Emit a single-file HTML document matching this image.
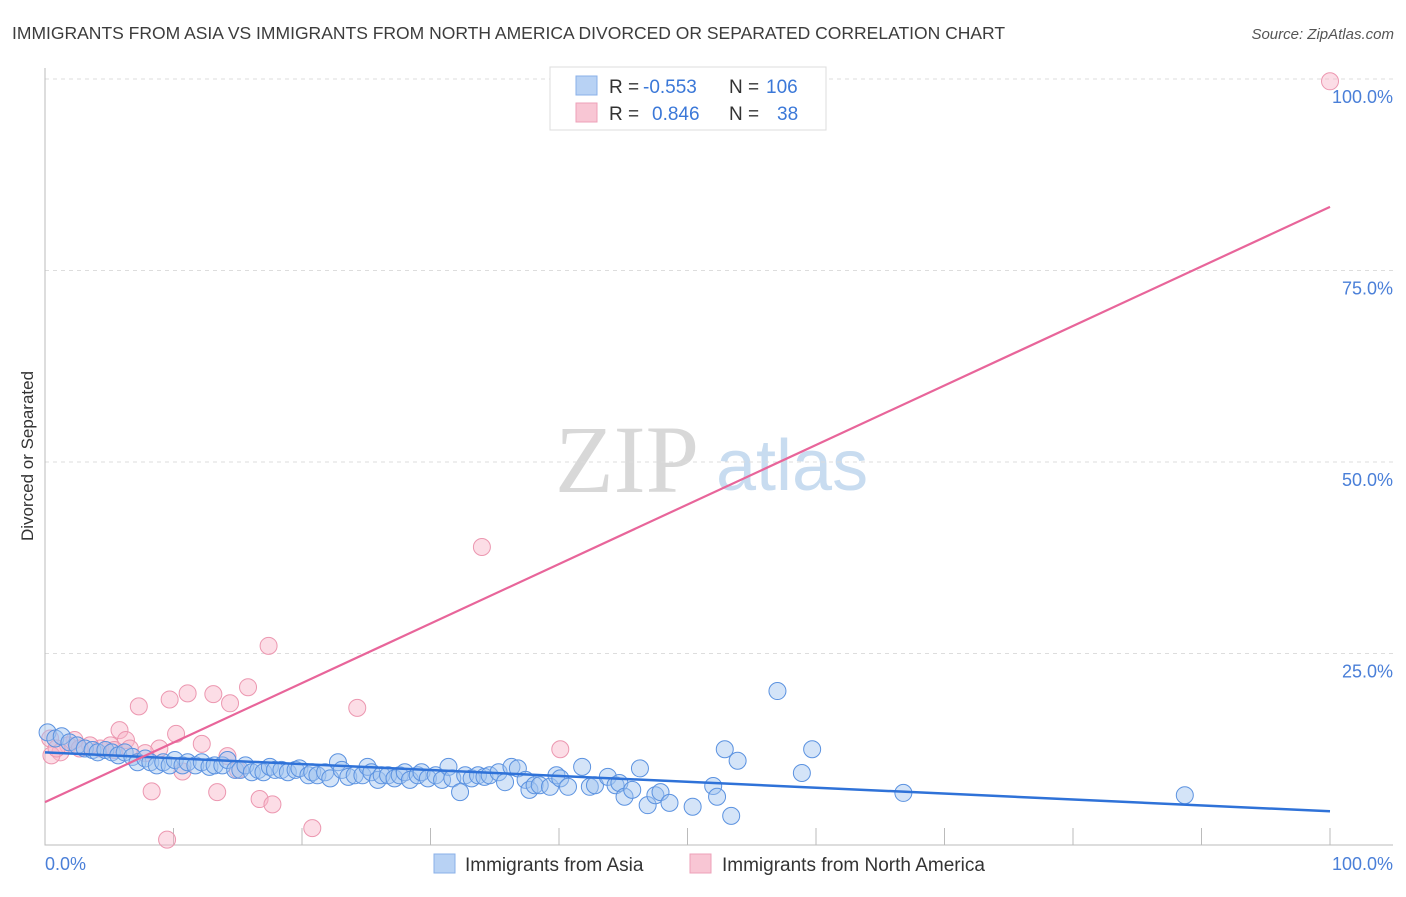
<!DOCTYPE html>
<html><head><meta charset="utf-8"><style>
body{margin:0;background:#fff;width:1406px;height:892px;overflow:hidden;font-family:"Liberation Sans",sans-serif}
</style></head><body>
<svg id="chart" width="1406" height="892" xmlns="http://www.w3.org/2000/svg" font-family="Liberation Sans, sans-serif">
<text x="12" y="39" font-size="17.5" fill="#3c3c3c">IMMIGRANTS FROM ASIA VS IMMIGRANTS FROM NORTH AMERICA DIVORCED OR SEPARATED CORRELATION CHART</text>
<text x="1394" y="39" font-size="15" font-style="italic" fill="#555" text-anchor="end">Source: ZipAtlas.com</text>
<text transform="translate(33,456) rotate(-90)" font-size="17" fill="#333" text-anchor="middle">Divorced or Separated</text>
<g>
<text x="555" y="492" font-size="96" font-family="Liberation Serif, serif" fill="#d8d8d8">ZIP</text>
<text x="716" y="490" font-size="72" fill="#c8dcf0">atlas</text>
</g>
<g id="grid"></g>
<g id="axes"></g>
<g id="pts"></g>
<g id="lines"></g>
<g>
<rect x="550" y="67" width="276" height="63" fill="#fff" stroke="#ddd"/>
<rect x="576" y="76" width="21" height="19" fill="#b8d2f4" stroke="#8ab0e8"/>
<rect x="576" y="103" width="21" height="19" fill="#f8c6d4" stroke="#eea0b8"/>
<text x="609" y="93" font-size="19" fill="#333">R = </text>
<text x="643" y="93" font-size="19" fill="#3b78d8">-0.553</text>
<text x="729" y="93" font-size="19" fill="#333">N = </text>
<text x="766" y="93" font-size="19" fill="#3b78d8">106</text>
<text x="609" y="120" font-size="19" fill="#333">R = </text>
<text x="652" y="120" font-size="19" fill="#3b78d8">0.846</text>
<text x="729" y="120" font-size="19" fill="#333">N = </text>
<text x="777" y="120" font-size="19" fill="#3b78d8">38</text>
</g>
<g>
<rect x="434" y="854" width="21" height="19" fill="#b8d2f4" stroke="#8ab0e8"/>
<text x="465" y="871" font-size="19" fill="#333">Immigrants from Asia</text>
<rect x="690" y="854" width="21" height="19" fill="#f8c6d4" stroke="#eea0b8"/>
<text x="722" y="871" font-size="19" fill="#333">Immigrants from North America</text>
</g>
</svg>
<script>
const yTicks=[25,50,75,100];
const yTickLabels=["25.0%","50.0%","75.0%","100.0%"];
const xTicks=[0,10,20,30,40,50,60,70,80,90,100];
const asiaX=[0.2,0.8,1.3,1.9,2.5,3.1,3.7,4.1,4.7,5.2,5.7,6.2,6.8,7.2,7.8,8.2,8.7,9.2,9.7,10.1,10.7,11.1,11.7,12.2,12.8,13.2,13.8,14.2,14.8,15.2,15.6,16.1,16.6,17.0,17.5,17.9,18.4,18.9,19.5,19.8,20.5,20.8,21.2,21.8,22.2,22.8,23.1,23.6,24.1,24.7,25.1,25.4,25.9,26.2,26.7,27.2,27.6,28.0,28.4,29.0,29.3,29.8,30.4,30.9,31.4,31.7,32.3,32.7,33.2,33.7,34.2,34.6,35.3,35.8,36.3,36.8,37.4,37.7,38.1,38.5,39.3,39.8,40.1,40.7,41.8,42.4,42.8,43.8,44.4,44.7,45.1,45.7,46.3,46.9,47.5,47.9,48.6,50.4,52.0,52.3,52.9,53.4,53.9,57.0,58.9,59.7,66.8,88.7];
const asiaY=[14.7,13.9,14.2,13.4,13.0,12.6,12.4,12.1,12.4,12.1,11.7,12.1,11.5,10.8,11.3,10.8,10.4,10.8,10.4,11.1,10.4,10.8,10.4,10.8,10.2,10.4,10.4,11.1,9.8,9.8,10.4,9.5,9.8,9.5,10.2,9.8,9.8,9.5,9.8,10.0,9.1,9.5,9.1,9.5,8.7,10.8,9.8,8.9,9.1,9.1,10.2,9.5,8.5,9.1,9.1,8.7,9.1,9.5,8.5,9.1,9.5,8.7,9.1,8.5,10.2,8.7,6.9,9.1,8.7,9.1,8.9,9.1,9.5,8.2,10.2,10.0,8.5,7.2,7.8,7.8,7.6,9.1,8.7,7.6,10.2,7.6,7.8,8.9,7.8,8.1,6.3,7.2,10.0,5.2,6.5,6.9,5.5,5.0,7.7,6.3,12.5,3.8,11.0,20.1,9.4,12.5,6.8,6.5];
const naX=[100,34.0,17.4,7.3,15.8,11.1,13.1,9.7,14.4,24.3,5.8,10.2,6.3,12.2,8.9,7.8,14.2,4.3,3.5,2.3,1.8,1.2,0.5,0.4,5.1,10.7,15.0,8.3,13.4,16.7,17.7,20.8,9.5,40.1,0.9,2.7,5.4,6.6];
const naY=[99.7,38.9,26.0,18.1,20.6,19.8,19.7,19.0,18.5,17.9,15.0,14.5,13.7,13.2,12.6,12.0,11.6,12.6,13.0,13.7,13.0,12.1,11.7,13.9,13.0,9.6,9.8,7.0,6.9,6.0,5.3,2.2,0.7,12.5,12.6,12.6,12.4,12.6];
const asiaFit=[12.1,4.4];
const naFit=[5.6,83.3];
const NS="http://www.w3.org/2000/svg";
const X0=45,X1=1330,Y0=845,Y1=79;
const sx=v=>X0+(X1-X0)*v/100;
const sy=v=>Y0-(Y0-Y1)*v/100;
function mk(p,tag,a){const e=document.createElementNS(NS,tag);for(const k in a)e.setAttribute(k,a[k]);p.appendChild(e);return e;}
const grid=document.getElementById('grid'),axes=document.getElementById('axes'),pts=document.getElementById('pts'),lines=document.getElementById('lines');
yTicks.forEach((t,i)=>{
  const l=mk(grid,'line',{x1:X0,x2:1393,y1:sy(t),y2:sy(t),stroke:'#ddd','stroke-dasharray':'4,4'});
  
  
  const tx=mk(axes,'text',{x:1393,y:sy(t)+24,'font-size':18,fill:'#4a7fd8','text-anchor':'end'});
  tx.textContent=yTickLabels[i];
  
  
});
const ax=mk(axes,'path',{d:`M${X0} 68 V${Y0} H1393`,stroke:'#bbb',fill:'none'});


xTicks.forEach(t=>{
  const l=mk(axes,'line',{x1:sx(t),x2:sx(t),y1:Y0-17,y2:Y0,stroke:'#bbb'});
  
  
});
[[0,'0.0%','start',45],[100,'100.0%','end',1393]].forEach(d=>{
  const tx=mk(axes,'text',{x:d[3],y:870,'font-size':18,fill:'#4a7fd8','text-anchor':d[2]});
  tx.textContent=d[1];
  
  
});
naX.forEach((x,i)=>{
  const c=mk(pts,'circle',{cx:sx(x),cy:sy(naY[i]),r:8.5,fill:'rgba(248,180,200,0.45)',stroke:'#ec97b0','stroke-width':1});
  
  
});
asiaX.forEach((x,i)=>{
  const c=mk(pts,'circle',{cx:sx(x),cy:sy(asiaY[i]),r:8.5,fill:'rgba(160,196,240,0.45)',stroke:'#5b92e0','stroke-width':1});
  
  
});
const la=mk(lines,'line',{x1:sx(0),y1:sy(asiaFit[0]),x2:sx(100),y2:sy(asiaFit[1]),stroke:'#2f72d8','stroke-width':2.5});


const ln=mk(lines,'line',{x1:sx(0),y1:sy(naFit[0]),x2:sx(100),y2:sy(naFit[1]),stroke:'#e8659a','stroke-width':2.2});


</script>
</body></html>
